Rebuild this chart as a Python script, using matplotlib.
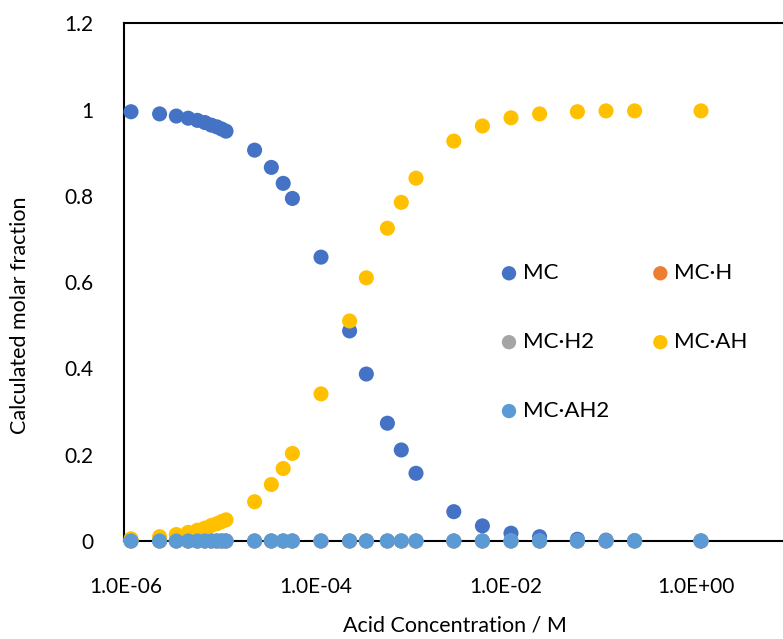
import matplotlib
matplotlib.use("Agg")
import matplotlib.pyplot as plt
import matplotlib.transforms as mtransforms

# acid concentration (M)
conc = [1e-6, 2e-6, 3e-6, 4e-6, 5e-6, 6e-6, 7e-6, 8e-6, 9e-6, 1e-5,
        2e-5, 3e-5, 4e-5, 5e-5, 1e-4, 2e-4, 3e-4, 5e-4, 7e-4, 1e-3,
        2.5e-3, 5e-3, 1e-2, 2e-2, 5e-2, 0.1, 0.2, 1.0]

mc = [0.995, 0.990, 0.985, 0.980, 0.975, 0.970, 0.964, 0.960, 0.955, 0.950,
      0.906, 0.866, 0.829, 0.794, 0.658, 0.487, 0.387, 0.273, 0.211, 0.157,
      0.068, 0.035, 0.018, 0.010, 0.004, 0.002, 0.001, 0.0002]
mc_h = [0.0] * 28
mc_h2 = [0.0] * 28
mc_ah = [0.005, 0.010, 0.015, 0.020, 0.025, 0.030, 0.036, 0.040, 0.045, 0.049,
         0.091, 0.131, 0.168, 0.203, 0.341, 0.510, 0.610, 0.725, 0.785, 0.841,
         0.927, 0.962, 0.981, 0.990, 0.995, 0.997, 0.997, 0.997]
mc_ah2 = [0.0] * 28

series_names = ["MC", "MC\u00b7H", "MC\u00b7H2", "MC\u00b7AH", "MC\u00b7AH2"]
series_colors = ["#4472C4", "#ED7D31", "#A5A5A5", "#FFC000", "#5B9BD5"]

xtick_values = [1e-6, 1e-4, 1e-2, 1e0]
xtick_labels = ["1.0E-06", "1.0E-04", "1.0E-02", "1.0E+00"]
ytick_values = [0, 0.2, 0.4, 0.6, 0.8, 1.0, 1.2]
ytick_labels = ["0", "0.2", "0.4", "0.6", "0.8", "1", "1.2"]

plt.rcParams['font.family'] = ['Lato', 'DejaVu Sans']

W, H = 783, 639
fig = plt.figure(figsize=(W / 100, H / 100), dpi=100)

# plot area in pixels: left spine 124, top 23, y=0 at 541, 95 px per decade
px_left, px_top, px_bottom = 124, 23.3, 541
px_right = 131 + 7 * 95  # 1e1
ax = fig.add_axes([px_left / W, 1 - px_bottom / H,
                   (px_right - px_left) / W, (px_bottom - px_top) / H])

ax.set_xscale("log")
ax.set_xlim(10 ** (-6 - 7 / 95), 10.0)
ax.set_ylim(0, 1.2)

handles = []
for vals, name, color in zip([mc, mc_h, mc_h2, mc_ah, mc_ah2], series_names, series_colors):
    h = ax.scatter(conc, vals, s=118, color=color, edgecolors="none",
                   label=name, clip_on=False, zorder=3)
    handles.append(h)

for side in ["top", "left", "bottom"]:
    ax.spines[side].set_color("black")
    ax.spines[side].set_linewidth(1.5)
    ax.spines[side].set_zorder(1)
ax.spines["right"].set_visible(False)

ax.set_xticks(xtick_values)
ax.set_xticklabels(xtick_labels)
ax.minorticks_off()
ax.set_yticks(ytick_values)
ax.set_yticklabels(ytick_labels)
ax.tick_params(axis="both", length=0, labelsize=15, colors="#000000")
ax.tick_params(axis="x", pad=26)
ax.tick_params(axis="y", pad=22)

shift = mtransforms.ScaledTranslation(-5 / 100, 0, fig.dpi_scale_trans)
for lbl in ax.get_xticklabels():
    lbl.set_transform(lbl.get_transform() + shift)

fig.text(455 / W, 1 - 626 / H, "Acid Concentration / M", ha="center", va="center", fontsize=15.5)
fig.text(20 / W, 1 - 315 / H, "Calculated molar fraction", ha="center", va="center",
         rotation=90, fontsize=15.5)

# legend laid out column-first: MC, MC.H2, MC.AH2 | MC.H, MC.AH
order = [0, 2, 4, 1, 3]
ax.legend([handles[i] for i in order], [series_names[i] for i in order],
          ncol=2, frameon=False, fontsize=16, loc="upper left",
          bbox_to_anchor=(489 / W, 1 - 252 / H), bbox_transform=fig.transFigure,
          handlelength=0.8, handletextpad=0.23, labelspacing=2.2, columnspacing=1.9,
          markerscale=0.95, borderpad=0)

fig.savefig("out.png", dpi=100)
